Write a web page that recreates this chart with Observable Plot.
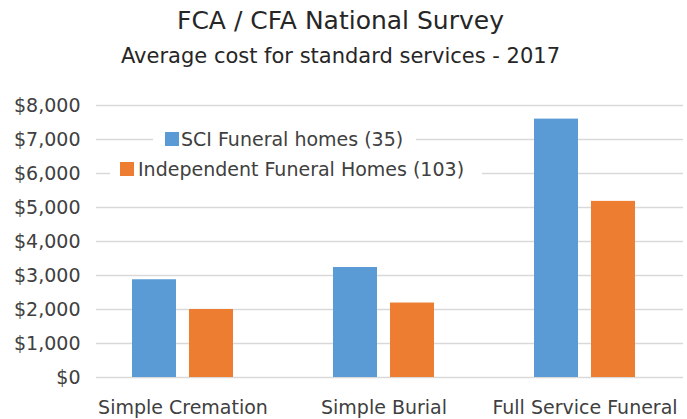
<!DOCTYPE html>
<html><head><meta charset="utf-8">
<script src="https://cdn.jsdelivr.net/npm/d3@7"></script>
<script src="https://cdn.jsdelivr.net/npm/@observablehq/plot@0.6"></script>
<style>
body{margin:0;background:#fff;}
#wrap{position:relative;width:687px;height:419px;overflow:hidden;font-family:"DejaVu Sans",sans-serif;background:#fff;}
.t{position:absolute;left:-3px;width:687px;text-align:center;line-height:1;color:#262626;white-space:nowrap;}
#plot{position:absolute;left:0;top:80px;}
.lg{position:absolute;background:#fff;display:flex;align-items:center;height:26px;box-sizing:border-box;font-size:19px;color:#404040;white-space:nowrap;}
.sw{width:14px;height:14px;flex:none;}
</style></head>
<body><div id="wrap">
<div class="t" id="title" style="top:8px;font-size:25px;"></div>
<div class="t" id="subtitle" style="top:46px;font-size:21px;"></div>
<div id="plot"></div>
<div class="lg" id="lg0" style="left:153px;top:126px;width:263px;padding-left:12px;"><span class="sw"></span><span class="tx" style="margin-left:2px"></span></div>
<div class="lg" id="lg1" style="left:110px;top:156px;width:372px;padding-left:10px;"><span class="sw"></span><span class="tx" style="margin-left:4px"></span></div>
</div>
<script>
const title = "FCA / CFA National Survey";
const subtitle = "Average cost for standard services - 2017";
const categories = ["Simple Cremation", "Simple Burial", "Full Service Funeral"];
const seriesNames = ["SCI Funeral homes (35)", "Independent Funeral Homes (103)"];
const sciValues = [2875, 3235, 7600];
const independentValues = [2000, 2190, 5180];
const yTicks = [0, 1000, 2000, 3000, 4000, 5000, 6000, 7000, 8000];
const colors = ["#5b9bd5", "#ed7d31"];

document.getElementById("title").textContent = title;
document.getElementById("subtitle").textContent = subtitle;
seriesNames.forEach((s, i) => {
  const el = document.getElementById("lg" + i);
  el.querySelector(".sw").style.background = colors[i];
  el.querySelector(".tx").textContent = s;
});

const table = categories.flatMap((c, i) => [
  {category: c, series: seriesNames[0], value: sciValues[i]},
  {category: c, series: seriesNames[1], value: independentValues[i]}
]);
const grid = categories.flatMap(c => yTicks.map(v => ({category: c, value: v})));
const gridStyle = {fx: "category", y: "value", stroke: "#d9d9d9", strokeWidth: 1.5};
const fmt = d3.format(",");

const chart = Plot.plot({
  width: 687, height: 339,
  marginTop: 25, marginBottom: 42, marginLeft: 81, marginRight: 1,
  style: {fontFamily: "DejaVu Sans", fontSize: "19px", color: "#404040", background: "transparent"},
  fx: {domain: categories, paddingInner: 0, paddingOuter: 0, axis: "bottom", tickSize: 0, tickPadding: 23, label: null},
  x: {domain: seriesNames, paddingInner: 0.22, paddingOuter: 0.845, axis: null},
  y: {domain: [0, 8000], ticks: yTicks, tickFormat: d => "$" + fmt(d), tickSize: 0, tickPadding: 2, label: null},
  color: {domain: seriesNames, range: colors},
  marks: [
    Plot.ruleY(grid.filter(d => d.category === categories[0]), {...gridStyle, insetLeft: 14}),
    Plot.ruleY(grid.filter(d => d.category === categories[1]), gridStyle),
    Plot.ruleY(grid.filter(d => d.category === categories[2]), {...gridStyle, insetRight: 2}),
    Plot.barY(table, {fx: "category", x: "series", y: "value", fill: "series"})
  ]
});
document.getElementById("plot").appendChild(chart);
</script>
</body></html>
